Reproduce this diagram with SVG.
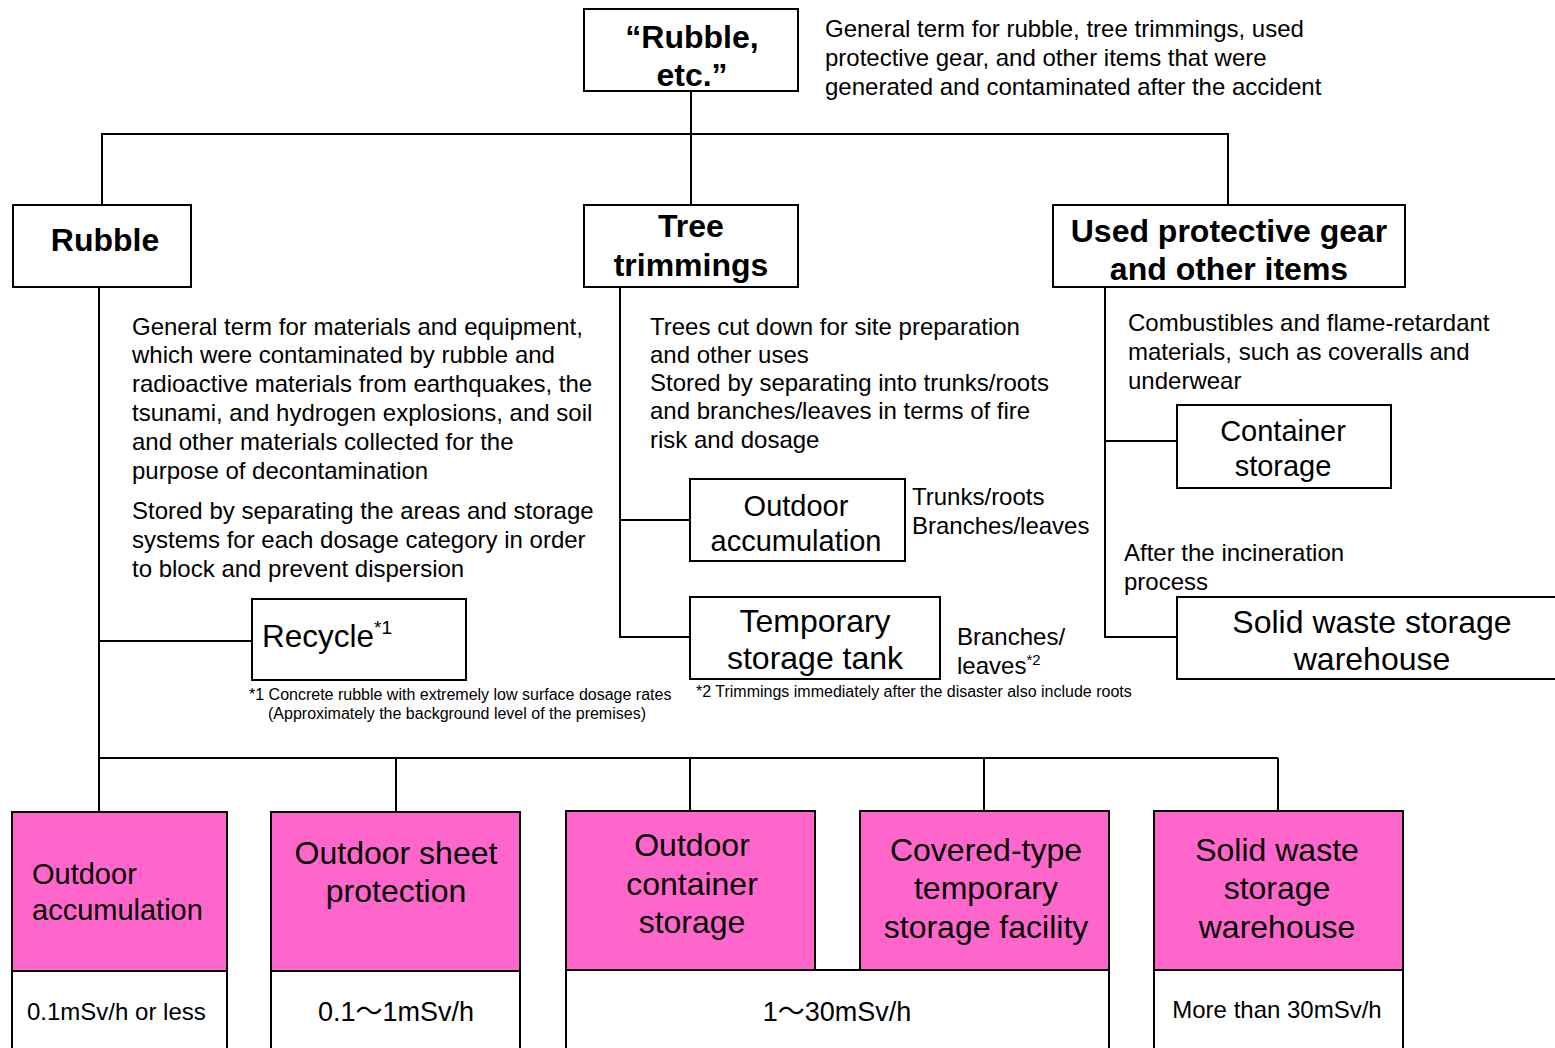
<svg xmlns="http://www.w3.org/2000/svg" width="1555" height="1048" viewBox="0 0 1555 1048">
<style>
text{font-family:"Liberation Sans",Arial,"Noto Sans CJK JP",sans-serif;fill:#000}
.box{fill:#fff;stroke:#000;stroke-width:2}
.pink{fill:#FF66CC;stroke:#000;stroke-width:2}
.ln{fill:none;stroke:#000;stroke-width:2}
.h{font-weight:bold;font-size:32px;text-anchor:middle}
.d{font-size:24px}
.n{font-size:29px;text-anchor:middle}
.p{font-size:32px;text-anchor:middle}
.fn{font-size:16px}
</style>
<rect width="1555" height="1048" fill="#fff"/>
<g id="connectors">
<path class="ln" d="M691 91V205M102 205V134H1228V205"/>
<path class="ln" d="M99 287V812M99 641H252M99 758H1278M396 758V812M690 758V811M984 758V811M1278 758V811"/>
<path class="ln" d="M620 287V637H690M620 520H690"/>
<path class="ln" d="M1105 287V637H1177M1105 441H1177"/>
</g>
<g id="root">
<rect class="box" x="584" y="9" width="214" height="82"/>
<text class="h" x="692" y="48">“Rubble,</text>
<text class="h" x="692" y="86">etc.”</text>
<text class="d" x="825" y="37">General term for rubble, tree trimmings, used</text>
<text class="d" x="825" y="66">protective gear, and other items that were</text>
<text class="d" x="825" y="95">generated and contaminated after the accident</text>
</g>
<g id="rubble">
<rect class="box" x="13" y="205" width="178" height="82"/>
<text class="h" x="105" y="251">Rubble</text>
<text class="d" x="132" y="335">General term for materials and equipment,</text>
<text class="d" x="132" y="363">which were contaminated by rubble and</text>
<text class="d" x="132" y="392">radioactive materials from earthquakes, the</text>
<text class="d" x="132" y="421">tsunami, and hydrogen explosions, and soil</text>
<text class="d" x="132" y="450">and other materials collected for the</text>
<text class="d" x="132" y="479">purpose of decontamination</text>
<text class="d" x="132" y="519">Stored by separating the areas and storage</text>
<text class="d" x="132" y="548">systems for each dosage category in order</text>
<text class="d" x="132" y="577">to block and prevent dispersion</text>
</g>
<g id="trees">
<rect class="box" x="584" y="205" width="214" height="82"/>
<text class="h" x="691" y="237">Tree</text>
<text class="h" x="691" y="276">trimmings</text>
<text class="d" x="650" y="335">Trees cut down for site preparation</text>
<text class="d" x="650" y="363">and other uses</text>
<text class="d" x="650" y="391">Stored by separating into trunks/roots</text>
<text class="d" x="650" y="419">and branches/leaves in terms of fire</text>
<text class="d" x="650" y="448">risk and dosage</text>
</g>
<g id="gear">
<rect class="box" x="1053" y="205" width="352" height="82"/>
<text class="h" x="1229" y="242">Used protective gear</text>
<text class="h" x="1229" y="280">and other items</text>
<text class="d" x="1128" y="331">Combustibles and flame-retardant</text>
<text class="d" x="1128" y="360">materials, such as coveralls and</text>
<text class="d" x="1128" y="389">underwear</text>
</g>
<g id="recycle">
<rect class="box" x="252" y="599" width="214" height="81"/>
<text x="262" y="647" style="font-size:31.5px">Recycle<tspan dy="-13" style="font-size:19px">*1</tspan></text>
<text class="fn" x="249" y="700">*1 Concrete rubble with extremely low surface dosage rates</text>
<text class="fn" x="268" y="719">(Approximately the background level of the premises)</text>
</g>
<g id="tree-outdoor">
<rect class="box" x="690" y="479" width="215" height="82"/>
<text class="n" x="796" y="516">Outdoor</text>
<text class="n" x="796" y="551">accumulation</text>
<text class="d" x="912" y="505">Trunks/roots</text>
<text class="d" x="912" y="534">Branches/leaves</text>
</g>
<g id="tree-tank">
<rect class="box" x="690" y="597" width="250" height="82"/>
<text class="n" x="815" y="632" style="font-size:32px">Temporary</text>
<text class="n" x="815" y="669" style="font-size:32px">storage tank</text>
<text class="d" x="957" y="645">Branches/</text>
<text class="d" x="957" y="674">leaves<tspan dy="-9" style="font-size:15px">*2</tspan></text>
<text class="fn" x="696" y="697">*2 Trimmings immediately after the disaster also include roots</text>
</g>
<g id="container">
<rect class="box" x="1177" y="405" width="214" height="83"/>
<text class="n" x="1283" y="441">Container</text>
<text class="n" x="1283" y="476">storage</text>
<text class="d" x="1124" y="561">After the incineration</text>
<text class="d" x="1124" y="590">process</text>
</g>
<g id="solid-waste">
<rect class="box" x="1177" y="597" width="390" height="82"/>
<text class="n" x="1372" y="633" style="font-size:32px">Solid waste storage</text>
<text class="n" x="1372" y="670" style="font-size:32px">warehouse</text>
</g>
<g id="cat1">
<rect class="pink" x="12" y="812" width="215" height="159"/>
<rect class="box" x="12" y="971" width="215" height="90"/>
<text x="32" y="884" style="font-size:29px">Outdoor</text>
<text x="32" y="920" style="font-size:29px">accumulation</text>
<text x="27" y="1020" style="font-size:24px">0.1mSv/h or less</text>
</g>
<g id="cat2">
<rect class="pink" x="271" y="812" width="249" height="159"/>
<rect class="box" x="271" y="971" width="249" height="90"/>
<text class="p" x="396" y="864">Outdoor sheet</text>
<text class="p" x="396" y="902">protection</text>
<text x="396" y="1021" style="font-size:27px;text-anchor:middle">0.1～1mSv/h</text>
</g>
<g id="cat3">
<rect class="pink" x="566" y="811" width="249" height="159"/>
<text class="p" x="692" y="856">Outdoor</text>
<text class="p" x="692" y="895">container</text>
<text class="p" x="692" y="933">storage</text>
</g>
<g id="cat4">
<rect class="pink" x="860" y="811" width="249" height="159"/>
<text class="p" x="986" y="861">Covered-type</text>
<text class="p" x="986" y="899">temporary</text>
<text class="p" x="986" y="938">storage facility</text>
</g>
<g id="cat34-range">
<rect class="box" x="566" y="970" width="543" height="91"/>
<text x="837" y="1021" style="font-size:27px;text-anchor:middle">1～30mSv/h</text>
</g>
<g id="cat5">
<rect class="pink" x="1154" y="811" width="249" height="159"/>
<rect class="box" x="1154" y="970" width="249" height="91"/>
<text class="p" x="1277" y="861">Solid waste</text>
<text class="p" x="1277" y="899">storage</text>
<text class="p" x="1277" y="938">warehouse</text>
<text x="1277" y="1018" style="font-size:24px;text-anchor:middle">More than 30mSv/h</text>
</g>
</svg>
